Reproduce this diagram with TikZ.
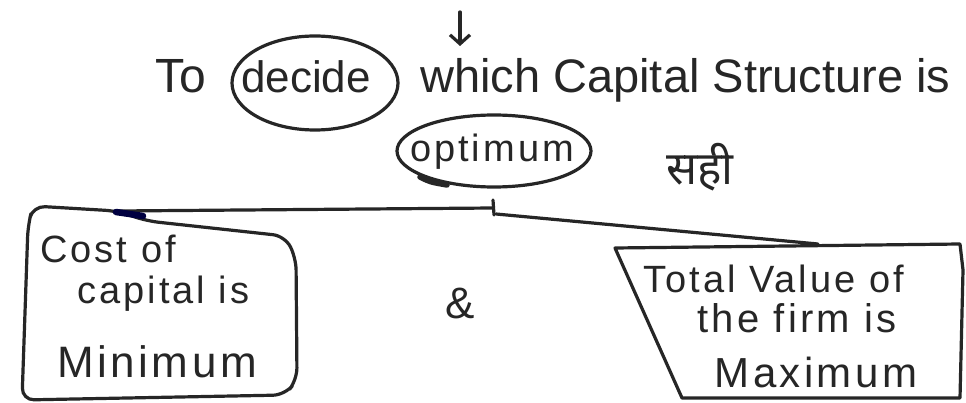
\documentclass[tikz,border=0pt]{standalone}
\usepackage{fontspec}
\setmainfont{Liberation Sans}
\newfontfamily\wide[LetterSpace=8]{Liberation Sans}
\newfontfamily\deva[Script=Devanagari]{Noto Sans}
\usetikzlibrary{arrows.meta,shapes.geometric}
\tikzset{
  ink/.style={draw=black!85, line width=3.2pt, line cap=round, line join=round},
  hw/.style={text=black!85, inner sep=0pt},
  oval/.style={ink, ellipse, inner sep=0pt},
}
\newcommand{\fs}[1]{\fontsize{#1}{#1}\selectfont}
\begin{document}
\begin{tikzpicture}[x=1pt,y=-1pt]
\useasboundingbox (0,0) rectangle (966,403);
\fill[white] (0,0) rectangle (966,403);

% top arrow
\coordinate (atop) at (460,12);
\coordinate (abot) at (460,46);
\draw[ink, -{Straight Barb[length=9pt,width=20pt]}] (atop) -- (abot);

% line 1
\node[hw, anchor=base west, font=\fs{48}] (to) at (155,93) {To};
\node[oval, minimum width=166pt, minimum height=94pt] (decideO) at (315,83) {};
\node[hw, anchor=base, font=\fs{44}] (decide) at (306,93) {decide};
\node[hw, anchor=base west, font=\fs{47}] (rest) at (420,93) {which Capital Structure is};

% optimum
\node[oval, minimum width=194pt, minimum height=72pt] (optO) at (494,151) {};
\draw[draw=black!85, line width=5.5pt, line cap=round] (420,177) .. controls (430,182) .. (447,185);
\node[hw, anchor=base, font=\wide\fs{38}] (opt) at (492,162) {optimum};
\node[hw, anchor=base, font=\deva\fs{46}] (sahi) at (700,185) {सही};

% branch connector
\coordinate (lt) at (118,211);
\coordinate (jl) at (493,208);
\coordinate (jr) at (496,214);
\coordinate (tk1) at (493,200);
\coordinate (tk2) at (494,215);
\coordinate (rt) at (818,244);
\draw[ink] (lt) -- (jl);
\draw[ink] (jr) -- (rt);
\draw[ink] (tk1) -- (tk2);

% left box
\draw[ink, rounded corners=12pt] (33,206) -- (117,211) -- (147,221) -- (285,236) -- (296,258)
  -- (297,380) -- (285,395) -- (22,400) -- (28,225) -- cycle;
\draw[draw=black!75!blue, line width=6.5pt, line cap=round] (116,212) -- (143,216);
\node[hw, anchor=base west, font=\wide\fs{38}] (l1) at (40,262) {Cost of};
\node[hw, anchor=base west, font=\wide\fs{38}] (l2) at (77,303) {capital is};
\node[hw, anchor=base west, font=\wide\fs{44}] (l3) at (57,377) {Minimum};

% ampersand
\node[hw, anchor=base, font=\fs{44}] (amp) at (460,318) {\&};

% right box
\draw[ink] (615,248) -- (960,244) -- (963,270) -- (960,398) -- (682,398) -- cycle;
\node[hw, anchor=base west, font=\wide\fs{38}] (r1) at (643,293) {Total Value of};
\node[hw, anchor=base, font=\wide\fs{40}] (r2) at (797,332) {the firm is};
\node[hw, anchor=base, font=\wide\fs{42}] (r3) at (816,387) {Maximum};
\end{tikzpicture}
\end{document}
